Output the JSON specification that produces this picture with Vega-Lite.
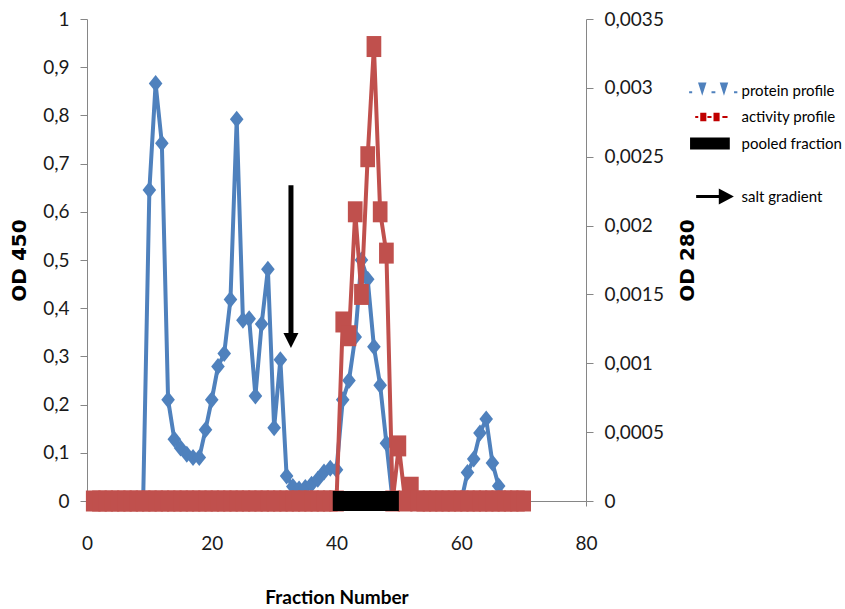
{
  "$schema": "https://vega.github.io/schema/vega-lite/v6.json",
  "width": 499,
  "height": 482,
  "autosize": "none",
  "padding": {"left": 87, "top": 19, "right": 259, "bottom": 108},
  "background": "white",
  "config": {
    "view": {"stroke": null},
    "axis": {
      "grid": false,
      "domainColor": "#868686",
      "tickColor": "#868686",
      "domainWidth": 1,
      "tickWidth": 1,
      "tickSize": 7,
      "labelPadding": 11,
      "labelFont": "Lato",
      "labelFontSize": 19,
      "labelColor": "#1a1a1a",
      "labelFlush": false,
      "titleColor": "#000000",
      "titleFontWeight": "bold"
    }
  },
  "datasets": {
    "protein": [
      {"fraction": 1, "od450": 0}, {"fraction": 2, "od450": 0}, {"fraction": 3, "od450": 0},
      {"fraction": 4, "od450": 0}, {"fraction": 5, "od450": 0}, {"fraction": 6, "od450": 0},
      {"fraction": 7, "od450": 0}, {"fraction": 8, "od450": 0}, {"fraction": 9, "od450": 0},
      {"fraction": 10, "od450": 0.645}, {"fraction": 11, "od450": 0.866}, {"fraction": 12, "od450": 0.742},
      {"fraction": 13, "od450": 0.21}, {"fraction": 14, "od450": 0.128}, {"fraction": 15, "od450": 0.11},
      {"fraction": 16, "od450": 0.097}, {"fraction": 17, "od450": 0.09}, {"fraction": 18, "od450": 0.09},
      {"fraction": 19, "od450": 0.148}, {"fraction": 20, "od450": 0.21}, {"fraction": 21, "od450": 0.279},
      {"fraction": 22, "od450": 0.306}, {"fraction": 23, "od450": 0.418}, {"fraction": 24, "od450": 0.792},
      {"fraction": 25, "od450": 0.375}, {"fraction": 26, "od450": 0.378}, {"fraction": 27, "od450": 0.218},
      {"fraction": 28, "od450": 0.367}, {"fraction": 29, "od450": 0.481}, {"fraction": 30, "od450": 0.152},
      {"fraction": 31, "od450": 0.293}, {"fraction": 32, "od450": 0.052}, {"fraction": 33, "od450": 0.03},
      {"fraction": 34, "od450": 0.025}, {"fraction": 35, "od450": 0.028}, {"fraction": 36, "od450": 0.035},
      {"fraction": 37, "od450": 0.045}, {"fraction": 38, "od450": 0.06}, {"fraction": 39, "od450": 0.068},
      {"fraction": 40, "od450": 0.065}, {"fraction": 41, "od450": 0.21}, {"fraction": 42, "od450": 0.25},
      {"fraction": 43, "od450": 0.34}, {"fraction": 44, "od450": 0.5}, {"fraction": 45, "od450": 0.46},
      {"fraction": 46, "od450": 0.32}, {"fraction": 47, "od450": 0.24}, {"fraction": 48, "od450": 0.12},
      {"fraction": 49, "od450": 0}, {"fraction": 50, "od450": 0}, {"fraction": 51, "od450": 0},
      {"fraction": 52, "od450": 0}, {"fraction": 53, "od450": 0}, {"fraction": 54, "od450": 0},
      {"fraction": 55, "od450": 0}, {"fraction": 56, "od450": 0}, {"fraction": 57, "od450": 0},
      {"fraction": 58, "od450": 0}, {"fraction": 59, "od450": 0}, {"fraction": 60, "od450": 0},
      {"fraction": 61, "od450": 0.059}, {"fraction": 62, "od450": 0.087}, {"fraction": 63, "od450": 0.141},
      {"fraction": 64, "od450": 0.17}, {"fraction": 65, "od450": 0.079}, {"fraction": 66, "od450": 0.031},
      {"fraction": 67, "od450": 0}, {"fraction": 68, "od450": 0}, {"fraction": 69, "od450": 0},
      {"fraction": 70, "od450": 0}
    ],
    "activity": [
      {"fraction": 1, "od280": 0}, {"fraction": 2, "od280": 0}, {"fraction": 3, "od280": 0},
      {"fraction": 4, "od280": 0}, {"fraction": 5, "od280": 0}, {"fraction": 6, "od280": 0},
      {"fraction": 7, "od280": 0}, {"fraction": 8, "od280": 0}, {"fraction": 9, "od280": 0},
      {"fraction": 10, "od280": 0}, {"fraction": 11, "od280": 0}, {"fraction": 12, "od280": 0},
      {"fraction": 13, "od280": 0}, {"fraction": 14, "od280": 0}, {"fraction": 15, "od280": 0},
      {"fraction": 16, "od280": 0}, {"fraction": 17, "od280": 0}, {"fraction": 18, "od280": 0},
      {"fraction": 19, "od280": 0}, {"fraction": 20, "od280": 0}, {"fraction": 21, "od280": 0},
      {"fraction": 22, "od280": 0}, {"fraction": 23, "od280": 0}, {"fraction": 24, "od280": 0},
      {"fraction": 25, "od280": 0}, {"fraction": 26, "od280": 0}, {"fraction": 27, "od280": 0},
      {"fraction": 28, "od280": 0}, {"fraction": 29, "od280": 0}, {"fraction": 30, "od280": 0},
      {"fraction": 31, "od280": 0}, {"fraction": 32, "od280": 0}, {"fraction": 33, "od280": 0},
      {"fraction": 34, "od280": 0}, {"fraction": 35, "od280": 0}, {"fraction": 36, "od280": 0},
      {"fraction": 37, "od280": 0}, {"fraction": 38, "od280": 0}, {"fraction": 39, "od280": 0},
      {"fraction": 40, "od280": 0}, {"fraction": 41, "od280": 0.0013}, {"fraction": 42, "od280": 0.0012},
      {"fraction": 43, "od280": 0.0021}, {"fraction": 44, "od280": 0.0015}, {"fraction": 45, "od280": 0.0025},
      {"fraction": 46, "od280": 0.0033}, {"fraction": 47, "od280": 0.0021}, {"fraction": 48, "od280": 0.0018},
      {"fraction": 49, "od280": 0}, {"fraction": 50, "od280": 0.0004}, {"fraction": 51, "od280": 0},
      {"fraction": 52, "od280": 0.0001}, {"fraction": 53, "od280": 0}, {"fraction": 54, "od280": 0},
      {"fraction": 55, "od280": 0}, {"fraction": 56, "od280": 0}, {"fraction": 57, "od280": 0},
      {"fraction": 58, "od280": 0}, {"fraction": 59, "od280": 0}, {"fraction": 60, "od280": 0},
      {"fraction": 61, "od280": 0}, {"fraction": 62, "od280": 0}, {"fraction": 63, "od280": 0},
      {"fraction": 64, "od280": 0}, {"fraction": 65, "od280": 0}, {"fraction": 66, "od280": 0},
      {"fraction": 67, "od280": 0}, {"fraction": 68, "od280": 0}, {"fraction": 69, "od280": 0},
      {"fraction": 70, "od280": 0}
    ],
    "pool": [{"start": 39.4, "end": 50, "level": 0}],
    "arrow": [{"fraction": 32.7, "top": 0.655, "head": 0.333}],
    "legend": [
      {"name": "protein profile"},
      {"name": "activity profile"},
      {"name": "pooled fraction"},
      {"name": " "},
      {"name": "salt gradient"}
    ]
  },
  "layer": [
    {
      "layer": [
        {
          "data": {"name": "protein"},
          "mark": {"type": "line", "color": "#4F81BD", "strokeWidth": 4},
          "encoding": {
            "x": {"field": "fraction", "type": "quantitative", "title": "Fraction Number",
              "scale": {"domain": [0, 80], "nice": false, "zero": false},
              "axis": {"values": [0, 20, 40, 60, 80], "format": "d", "tickSize": 5, "labelPadding": 28,
                "titleFont": "Lato", "titleFontSize": 19, "titlePadding": 35}},
            "y": {"field": "od450", "type": "quantitative", "title": "OD 450",
              "scale": {"domain": [0, 1], "nice": false},
              "axis": {"orient": "left", "values": [0, 0.1, 0.2, 0.3, 0.4, 0.5, 0.6, 0.7, 0.8, 0.9, 1],
                "format": "~g", "labelExpr": "replace(datum.label, '.', ',')",
                "titleFont": "DejaVu Sans", "titleFontSize": 20, "titlePadding": 13}}
          }
        },
        {
          "data": {"name": "protein"},
          "mark": {"type": "point", "shape": "M0,-1L0.8,0L0,1L-0.8,0Z", "size": 289, "filled": true, "opacity": 1, "color": "#4F81BD"},
          "encoding": {
            "x": {"field": "fraction", "type": "quantitative", "title": "Fraction Number"},
            "y": {"field": "od450", "type": "quantitative", "title": "OD 450"}
          }
        },
        {
          "data": {"name": "arrow"},
          "mark": {"type": "rule", "color": "#000000", "strokeWidth": 5},
          "encoding": {
            "x": {"field": "fraction", "type": "quantitative", "title": "Fraction Number"},
            "y": {"field": "top", "type": "quantitative", "title": "OD 450"},
            "y2": {"field": "head"}
          }
        },
        {
          "data": {"name": "arrow"},
          "mark": {"type": "point", "shape": "M-1,-1L1,-1L0,1Z", "size": 225, "filled": true, "opacity": 1, "color": "#000000"},
          "encoding": {
            "x": {"field": "fraction", "type": "quantitative", "title": "Fraction Number"},
            "y": {"field": "head", "type": "quantitative", "title": "OD 450"}
          }
        }
      ]
    },
    {
      "layer": [
        {
          "data": {"name": "activity"},
          "mark": {"type": "line", "color": "#C0504D", "strokeWidth": 4},
          "encoding": {
            "x": {"field": "fraction", "type": "quantitative", "title": "Fraction Number"},
            "y": {"field": "od280", "type": "quantitative", "title": "OD 280",
              "scale": {"domain": [0, 0.0035], "nice": false},
              "axis": {"orient": "right", "values": [0, 0.0005, 0.001, 0.0015, 0.002, 0.0025, 0.003, 0.0035],
                "format": "~g", "labelExpr": "replace(datum.label, '.', ',')",
                "titleFont": "DejaVu Sans", "titleFontSize": 20, "titleAngle": 270, "titleBaseline": "top",
                "titlePadding": 14}}
          }
        },
        {
          "data": {"name": "activity"},
          "mark": {"type": "point", "shape": "M-0.7,-1L0.7,-1L0.7,1L-0.7,1Z", "size": 441, "filled": true, "opacity": 1, "color": "#C0504D"},
          "encoding": {
            "x": {"field": "fraction", "type": "quantitative", "title": "Fraction Number"},
            "y": {"field": "od280", "type": "quantitative", "title": "OD 280"}
          }
        },
        {
          "data": {"name": "pool"},
          "mark": {"type": "rule", "color": "#000000", "strokeWidth": 20},
          "encoding": {
            "x": {"field": "start", "type": "quantitative", "title": "Fraction Number"},
            "x2": {"field": "end"},
            "y": {"field": "level", "type": "quantitative", "title": "OD 280"}
          }
        }
      ]
    },
    {
      "data": {"name": "legend"},
      "transform": [{"filter": "false"}],
      "mark": {"type": "point", "filled": true, "opacity": 1},
      "encoding": {
        "color": {"field": "name", "type": "nominal",
          "scale": {"domain": ["protein profile", "activity profile", "pooled fraction", " ", "salt gradient"],
            "range": ["#4F81BD", "#C00000", "#000000", "#ffffff", "#000000"]},
          "legend": {"orient": "none", "legendX": 613, "legendY": 58, "title": null, "symbolSize": 702,
            "symbolStrokeWidth": 0, "labelOffset": 14.5, "rowPadding": 4.5, "padding": 0,
            "labelFont": "Lato", "labelFontSize": 15, "labelColor": "#000000", "symbolOpacity": 1}},
        "shape": {"field": "name", "type": "nominal",
          "scale": {"domain": ["protein profile", "activity profile", "pooled fraction", " ", "salt gradient"],
            "range": [
              "M-1.84,0.05L-1.61,0.05L-1.61,0.2L-1.84,0.2ZM-1.17,-0.6L-0.53,-0.6L-0.85,0.4ZM-0.15,0.05L0.14,0.05L0.14,0.2L-0.15,0.2ZM0.47,-0.6L1.11,-0.6L0.79,0.4ZM1.55,0.05L1.8,0.05L1.8,0.2L1.55,0.2Z",
              "M-1.38,-0.08L-1.15,-0.08L-1.15,0.08L-1.38,0.08ZM-1,-0.32L-0.54,-0.32L-0.54,0.32L-1,0.32ZM-0.46,-0.08L-0.15,-0.08L-0.15,0.08L-0.46,0.08ZM0,-0.32L0.46,-0.32L0.46,0.32L0,0.32ZM0.67,-0.08L1.06,-0.08L1.06,0.08L0.67,0.08Z",
              "M-1.77,-0.45L1.23,-0.45L1.23,0.45L-1.77,0.45Z",
              "M0,0L0,0Z",
              "M-1.31,-0.11L0.45,-0.11L0.45,0.11L-1.31,0.11ZM0.4,-0.6L1.54,0L0.4,0.6Z"
            ]},
          "legend": {"orient": "none", "legendX": 613, "legendY": 58, "title": null, "symbolSize": 702,
            "symbolStrokeWidth": 0, "labelOffset": 14.5, "rowPadding": 4.5, "padding": 0,
            "labelFont": "Lato", "labelFontSize": 15, "labelColor": "#000000", "symbolOpacity": 1}}
      }
    }
  ],
  "resolve": {"scale": {"y": "independent"}}
}
